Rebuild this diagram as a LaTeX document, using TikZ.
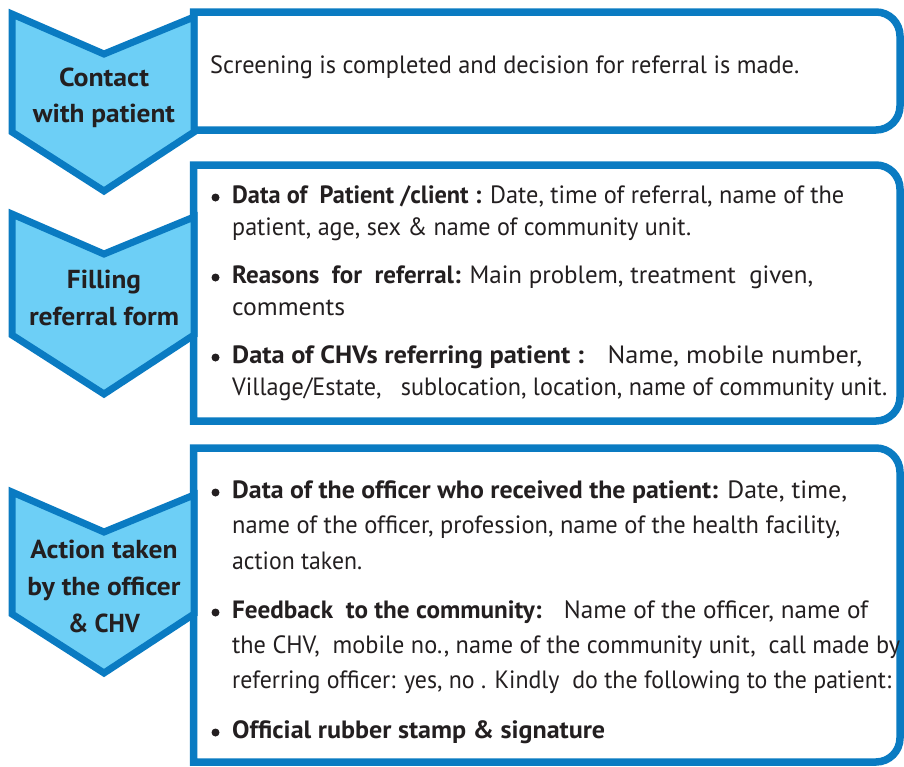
\documentclass[tikz,border=0pt]{standalone}
\usepackage{fontspec}
\setmainfont{PT Sans}
\usepackage{graphicx}
\definecolor{refBlue}{HTML}{0A7BC2}
\definecolor{refCyan}{HTML}{6DCFF6}
\definecolor{refInk}{HTML}{231F20}
% one printed line, squeezed to the width it has in the form
\newcommand{\refLine}[2]{\resizebox{#1pt}{\height}{#2}}
% text box: top edge, bottom edge
\newcommand{\refBox}[2]{\draw[boxline] (193.5,#1) -- (876,#1) .. controls (889.25,#1) and (900,#1+10.75) .. (900,#1+24) -- (900,#2-24) .. controls (900,#2-10.75) and (889.25,#2) .. (876,#2) -- (193.5,#2) -- cycle;}
% step arrow: top of the sides, bottom of the sides
\newcommand{\refChevron}[2]{\draw[chevron] (12,#1) -- (104,#1+40) -- (194,#1+3) -- (194,#2) -- (104,#2+59) -- (12,#2) -- cycle;}

\begin{document}
\begin{tikzpicture}[x=1pt,y=-1pt,
  boxline/.style={draw=refBlue, line width=7.5pt, fill=white},
  chevron/.style={draw=refBlue, line width=7pt, fill=refCyan},
  chevtext/.style={anchor=base, inner sep=0pt, text=refInk, font=\fontsize{26}{30}\bfseries},
  bodytext/.style={anchor=base west, inner sep=0pt, text=refInk, font=\fontsize{25}{30}\selectfont}]
\useasboundingbox (0,0) rectangle (904,766);
\refBox{12}{130}
\refBox{165}{421}
\refBox{448}{762}
\refChevron{14}{132}
\refChevron{214}{335}
\refChevron{492}{614}
\node[chevtext] (contact) at (104,86) {\refLine{90}{Contact}};
\node[chevtext] (withpatient) at (104,122) {\refLine{142}{with patient}};
\node[chevtext] (filling) at (104,288) {\refLine{74}{Filling}};
\node[chevtext] (refform) at (104,325) {\refLine{150}{referral form}};
\node[chevtext] (action) at (104,558) {\refLine{147}{Action taken}};
\node[chevtext] (byofficer) at (104,595) {\refLine{153}{by the officer}};
\node[chevtext] (andchv) at (104,632) {\refLine{72}{\& CHV}};
% box 1
\node[bodytext] (screening) at (210,73) {\refLine{589}{Screening is completed and decision for referral is made.}};
% box 2
\fill[refInk] (215.5,197.5) circle (4pt);
\fill[refInk] (215.5,277.5) circle (4pt);
\fill[refInk] (215.5,357.5) circle (4pt);
\node[bodytext] (patdata) at (232,203) {\refLine{612}{\textbf{Data of~ Patient /client :} Date, time of referral, name of the}};
\node[bodytext] (patdata2) at (232,235) {\refLine{459}{patient, age, sex \& name of community unit.}};
\node[bodytext] (reasons) at (232,283) {\refLine{581}{\textbf{Reasons~ for~ referral:} Main problem, treatment~ given,}};
\node[bodytext] (reasons2) at (232,315) {\refLine{113}{comments}};
\node[bodytext] (chvdata) at (232,363) {\refLine{630}{\textbf{Data of CHVs referring patient :}~~ Name, mobile number,}};
\node[bodytext] (chvdata2) at (232,395) {\refLine{655}{Village/Estate,~~ sublocation, location, name of community unit.}};
% box 3
\fill[refInk] (215.5,492.5) circle (4pt);
\fill[refInk] (215.5,612.5) circle (4pt);
\fill[refInk] (215.5,732.5) circle (4pt);
\node[bodytext] (officer) at (232,498) {\refLine{615}{\textbf{Data of the officer who received the patient:} Date, time,}};
\node[bodytext] (officer2) at (232,533) {\refLine{608}{name of the officer, profession, name of the health facility,}};
\node[bodytext] (officer3) at (232,569) {\refLine{130}{action taken.}};
\node[bodytext] (feedback) at (232,618) {\refLine{636}{\textbf{Feedback~ to the community:}~~ Name of the officer, name of}};
\node[bodytext] (feedback2) at (232,653) {\refLine{668}{the CHV,~ mobile no., name of the community unit,~ call made by}};
\node[bodytext] (feedback3) at (232,688) {\refLine{659}{referring officer: yes, no . Kindly~ do the following to the patient:}};
\node[bodytext] (stamp) at (232,738) {\refLine{373}{\textbf{Official rubber stamp \& signature}}};
\end{tikzpicture}
\end{document}
